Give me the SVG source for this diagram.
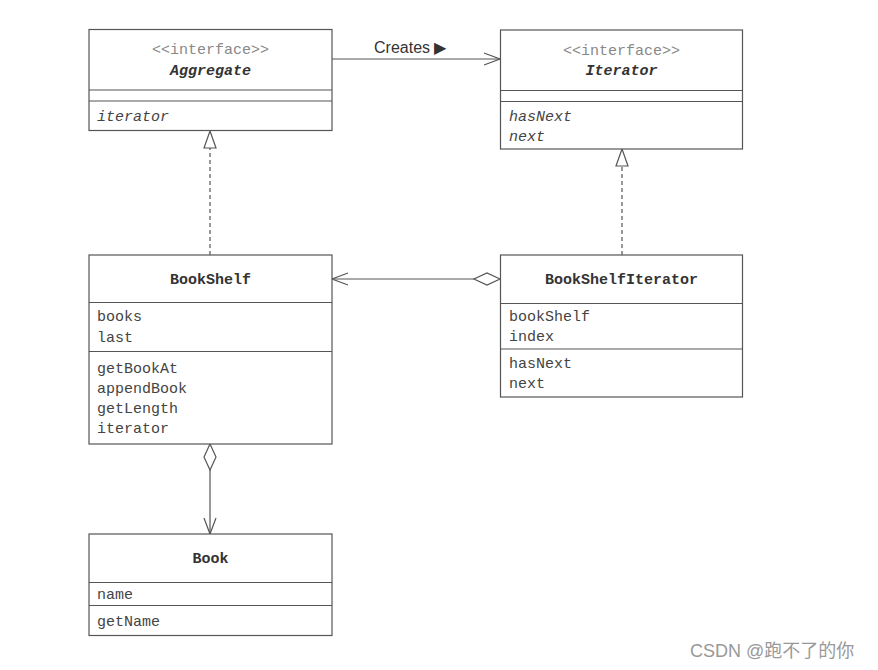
<svg xmlns="http://www.w3.org/2000/svg" width="878" height="670" viewBox="0 0 878 670">
<defs>
<style>
.box{fill:#fff;stroke:#555;stroke-width:1.2}
.div{stroke:#555;stroke-width:1.2}
.t{font-family:"Liberation Mono","Courier New",monospace;font-size:15px;fill:#444}
.st{font-family:"Liberation Mono","Courier New",monospace;font-size:15px;fill:#888;text-anchor:middle}
.b{font-family:"Liberation Mono","Courier New",monospace;font-size:15px;fill:#333;font-weight:bold;text-anchor:middle}
.i{font-style:italic}
.ln{stroke:#555;stroke-width:1.2;fill:none}
.dash{stroke-dasharray:4,3}
.hol{fill:#fff;stroke:#555;stroke-width:1.2}
</style>
<marker id="open" markerWidth="20" markerHeight="14" refX="17" refY="7" orient="auto" markerUnits="userSpaceOnUse">
<path d="M1,1 L17,7 L1,13" fill="none" stroke="#555" stroke-width="1.2"/>
</marker>
</defs>
<rect width="878" height="670" fill="#fff"/>

<g id="connectors">
<line class="ln" x1="332" y1="59" x2="500" y2="59" marker-end="url(#open)"/>
<text x="374" y="53" font-family="Liberation Sans,Arial,sans-serif" font-size="16" fill="#333">Creates ▶</text>
<line class="ln dash" x1="210" y1="255" x2="210" y2="148"/>
<path class="hol" d="M210,131 L216,148 L204,148 Z"/>
<line class="ln dash" x1="622" y1="255" x2="622" y2="166"/>
<path class="hol" d="M622,149 L628,166 L616,166 Z"/>
<line class="ln" x1="474" y1="279" x2="332" y2="279" marker-end="url(#open)"/>
<path class="hol" d="M500,279 L487,273 L474,279 L487,285 Z"/>
<line class="ln" x1="210" y1="470" x2="210" y2="534" marker-end="url(#open)"/>
<path class="hol" d="M210,444 L216,457 L210,470 L204,457 Z"/>
</g>

<g id="Aggregate">
<rect class="box" x="89" y="29.5" width="243" height="101"/>
<line class="div" x1="89" y1="90" x2="332" y2="90"/>
<line class="div" x1="89" y1="101" x2="332" y2="101"/>
<text class="st" x="210.5" y="54">&lt;&lt;interface&gt;&gt;</text>
<text class="b i" x="210.5" y="75">Aggregate</text>
<text class="t i" x="97" y="121">iterator</text>
</g>

<g id="Iterator">
<rect class="box" x="500.5" y="30" width="242" height="119"/>
<line class="div" x1="500.5" y1="90.5" x2="742.5" y2="90.5"/>
<line class="div" x1="500.5" y1="101.5" x2="742.5" y2="101.5"/>
<text class="st" x="621.5" y="55">&lt;&lt;interface&gt;&gt;</text>
<text class="b i" x="621.5" y="75">Iterator</text>
<text class="t i" x="509" y="121">hasNext</text>
<text class="t i" x="509" y="141">next</text>
</g>

<g id="BookShelf">
<rect class="box" x="89" y="255" width="243" height="189"/>
<line class="div" x1="89" y1="302.5" x2="332" y2="302.5"/>
<line class="div" x1="89" y1="351.5" x2="332" y2="351.5"/>
<text class="b" x="210.5" y="284">BookShelf</text>
<text class="t" x="97" y="321">books</text>
<text class="t" x="97" y="342">last</text>
<text class="t" x="97" y="373">getBookAt</text>
<text class="t" x="97" y="393">appendBook</text>
<text class="t" x="97" y="413">getLength</text>
<text class="t" x="97" y="433">iterator</text>
</g>

<g id="BookShelfIterator">
<rect class="box" x="500.5" y="255" width="242" height="142"/>
<line class="div" x1="500.5" y1="303.5" x2="742.5" y2="303.5"/>
<line class="div" x1="500.5" y1="349" x2="742.5" y2="349"/>
<text class="b" x="621.5" y="284">BookShelfIterator</text>
<text class="t" x="509" y="321">bookShelf</text>
<text class="t" x="509" y="341">index</text>
<text class="t" x="509" y="368">hasNext</text>
<text class="t" x="509" y="388">next</text>
</g>

<g id="Book">
<rect class="box" x="89" y="534" width="243" height="101.5"/>
<line class="div" x1="89" y1="582.5" x2="332" y2="582.5"/>
<line class="div" x1="89" y1="605.5" x2="332" y2="605.5"/>
<text class="b" x="210.5" y="563">Book</text>
<text class="t" x="97" y="599">name</text>
<text class="t" x="97" y="626">getName</text>
</g>

<text x="690" y="657" font-family="Liberation Sans,Arial,'Noto Sans CJK SC',sans-serif" font-size="18" fill="#999">CSDN @跑不了的你</text>
</svg>
